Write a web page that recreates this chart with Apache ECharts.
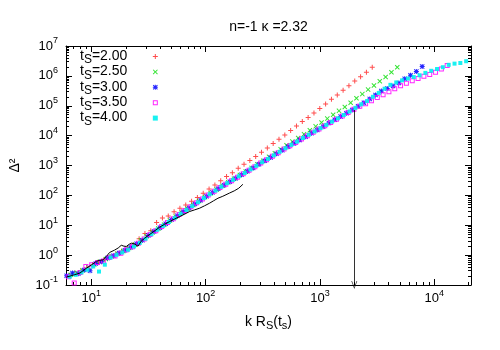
<!DOCTYPE html>
<html>
<head>
<meta charset="utf-8">
<script src="https://cdn.jsdelivr.net/npm/echarts@6.0.0/dist/echarts.min.js"></script>
<style>
html,body{margin:0;padding:0;background:#ffffff;}
#chart{width:500px;height:350px;}
</style>
</head>
<body>
<div id="chart"></div>
<script>
// ---------------- data ----------------
const titleText = 'n=-1 κ =2.32';
const tsLabels = ['2.00', '2.50', '3.00', '3.50', '4.00'];

const kRed = [6.40,7.19,8.09,9.10,10.23,11.51,12.94,14.55,16.37,18.41,20.70,23.28,26.18,29.44,33.11,37.24,41.88,47.10,52.97,59.57,66.99,75.34,84.72,95.28,107.2,120.5,135.5,152.4,171.4,192.8,216.8,243.8,274.2,308.3,346.7,390.0,438.5,493.2,554.6,623.7,701.5,788.9,887.2,997.7,1122,1262,1419,1596,1795,2018,2270,2553,2871];
const d2Red = [0.209,0.2455,0.2951,0.3715,0.4677,0.5754,0.7079,0.871,1.096,1.349,1.698,2.239,3.548,5.248,6.607,12.30,17.38,20.42,28.18,37.15,47.86,63.10,85.11,117.5,162.2,223.9,309.0,426.6,575.4,812.8,1096,1479,1995,2754,3890,5495,7586,10470,14790,20890,29510,40740,57540,81280,114800,166000,229100,331100,467700,676100,933300,1318000,1950000];

const kGreen = [6.62,7.45,8.38,9.42,10.59,11.91,13.40,15.07,16.94,19.05,21.43,24.10,27.10,30.48,34.28,38.55,43.35,48.75,54.83,61.66,69.34,77.98,87.70,98.63,110.9,124.7,140.3,157.8,177.4,199.5,224.4,252.4,283.8,319.2,358.9,403.6,453.9,510.5,574.1,645.7,726.1,816.6,918.3,1033,1161,1306,1469,1652,1858,2089,2350,2642,2972,3342,3758,4227,4753];
const d2Green = [0.2188,0.257,0.309,0.3981,0.4898,0.6026,0.7413,0.912,1.122,1.380,1.738,2.239,3.162,4.266,5.754,7.762,10.47,14.45,19.50,26.30,35.48,47.86,64.57,87.10,117.5,158.5,208.9,275.4,363.1,478.6,631.0,831.8,1096,1445,1950,2570,3467,4786,6310,8318,11220,15140,20420,27540,37150,50120,67610,91200,125900,177800,245500,346700,478600,660700,912000,1318000,1950000];

const kBlue = [6.08,6.84,7.69,8.65,9.73,10.94,12.30,13.84,15.56,17.50,19.68,22.13,24.89,27.99,31.48,35.40,39.81,44.77,50.35,56.62,63.68,71.61,80.54,90.57,101.9,114.6,128.8,144.9,162.9,183.2,206.1,231.7,260.6,293.1,329.6,370.7,416.9,468.8,527.2,592.9,666.8,749.9,843.3,948.4,1067,1199,1349,1517,1706,1919,2158,2427,2729,3069,3451,3882,4365,4909,5521,6209,6982,7852];
const d2Blue = [0.2042,0.2512,0.2399,0.3162,0.302,0.5248,0.6026,0.7943,0.955,1.175,1.445,1.820,2.399,3.162,4.571,6.166,8.318,11.22,15.49,20.89,28.18,38.02,51.29,69.18,93.33,125.9,166.0,218.8,288.4,371.5,489.8,645.7,831.8,1096,1445,1862,2455,3236,4266,5495,7079,9120,12020,15490,19950,26300,33880,43650,56230,72440,95500,125900,169800,229100,309000,380200,457100,575400,794300,1047000,1413000,2042000];

const kMagenta = [6.30,7.08,7.96,8.95,10.07,11.32,12.74,14.32,16.11,18.11,20.37,22.91,25.76,28.97,32.58,36.64,41.21,46.34,52.12,58.61,65.92,74.13,83.37,93.76,105.4,118.6,133.4,150.0,168.7,189.7,213.3,239.9,269.8,303.4,341.2,383.7,431.5,485.3,545.8,613.8,690.2,776.2,873.0,981.7,1104,1242,1396,1570,1766,1986,2234,2512,2825,3177,3573,4018,4519,5082,5715,6427,7228,8128,9141,10280,11560,13000];
const d2Magenta = [0.1905,0.1175,0.263,0.4169,0.4786,0.5623,0.631,0.8318,0.9333,1.148,1.514,1.905,2.512,3.467,4.898,6.607,9.12,12.30,16.60,22.91,30.90,41.69,56.23,75.86,102.3,138.0,182.0,234.4,309.0,407.4,524.8,691.8,912.0,1202,1549,2042,2692,3548,4571,5888,7762,10000,12880,16600,21380,27540,35480,45710,58880,75860,95500,117500,147900,190500,234400,295100,371500,467700,562300,691800,812800,977200,1122000,1318000,1698000,2239000];

const kCyan = [6.49,7.29,8.20,9.23,10.38,11.67,13.12,14.76,16.60,18.66,20.99,23.61,26.55,29.85,33.57,37.76,42.46,47.75,53.70,60.39,67.92,76.38,85.90,96.61,108.6,122.2,137.4,154.5,173.8,195.4,219.8,247.2,278.0,312.6,351.6,395.4,444.6,500.0,562.3,632.4,711.2,799.8,899.5,1012,1138,1279,1439,1618,1820,2046,2301,2588,2911,3273,3681,4140,4656,5236,5888,6622,7447,8375,9419,10590,11910,13400,15070,16940,19050];
const d2Cyan = [0.1905,0.2188,0.263,0.3236,0.4169,0.2818,0.4786,0.8318,1.023,1.230,1.514,1.950,2.570,3.548,5.012,7.079,9.550,12.88,17.38,23.99,32.36,43.65,58.88,81.28,109.6,144.5,195.0,257.0,331.1,436.5,562.3,741.3,977.2,1288,1660,2188,2884,3802,4898,6310,8318,10720,13800,17780,22910,29510,38020,48980,64570,85110,112200,144500,199500,269200,371500,501200,602600,707900,812800,912000,1047000,1259000,1479000,1698000,1950000,2344000,2570000,2692000,3090000];

const kLine = [6.03,7.08,7.94,9.04,10.0,11.04,11.89,12.59,13.49,14.45,16.0,17.18,18.28,19.28,20.23,21.38,22.39,23.99,25.59,27.35,29.17,31.26,35.48,39.54,43.65,48.42,53.70,59.16,66.07,72.44,79.43,88.51,97.72,108.4,117.5,128.2,141.3,162.2,177.8,195.0,211.8];
const d2Line = [0.182,0.219,0.251,0.363,0.468,0.617,0.676,0.692,0.891,1.230,1.479,1.738,2.138,1.995,1.950,2.291,2.512,2.344,1.995,2.951,3.631,4.467,6.31,8.61,10.72,13.34,16.22,19.50,23.99,28.84,32.36,37.15,44.67,54.95,66.07,80.35,93.33,120.2,141.3,173.8,234.4];

const arrowK = [2000];
const arrowD2 = [72000, 0.1];

const xRange = [6, 21000];
const yRange = [0.1, 1e7];
const xMajorTicks = [10, 100, 1000, 10000];
const yMajorTicks = [0.1, 1, 10, 100, 1000, 1e4, 1e5, 1e6, 1e7];
const xDecades = [1, 10, 100, 1000, 10000];
const yDecades = [0.1, 1, 10, 100, 1000, 1e4, 1e5, 1e6];
const minorMantissas = [2, 3, 4, 5, 6, 7, 8, 9];

// ---------------- presentation ----------------
const FONT = '"Liberation Sans", Arial, Helvetica, sans-serif';
const INK = '#000000';

function minorTicks(decades, range) {
  const out = [];
  decades.forEach(d => minorMantissas.forEach(m => {
    const v = d * m;
    if (v >= range[0] && v <= range[1]) out.push(v);
  }));
  return out;
}
const xMinor = minorTicks(xDecades, xRange);
const yMinor = minorTicks(yDecades, yRange);

function pairs(ks, vs) { return ks.map((k, i) => [k, vs[i]]); }

const expRich = {
  b: { fontFamily: FONT, fontSize: 13, color: INK, lineHeight: 13, verticalAlign: 'bottom' },
  s: { fontFamily: FONT, fontSize: 9, color: INK, lineHeight: 9, padding: [0, 0, 7, 0], verticalAlign: 'bottom' }
};
function expLabel(v) {
  const e = Math.round(Math.log10(v));
  return '{b|10}{s|' + e + '}';
}
const subRich = {
  a: { fontFamily: FONT, fontSize: 14, color: INK, lineHeight: 14, verticalAlign: 'top' },
  s: { fontFamily: FONT, fontSize: 11, color: INK, lineHeight: 11, padding: [5, 0, 0, 0], verticalAlign: 'top' }
};

const SYM_PLUS = 'path://M4,0H6V4H10V6H6V10H4V6H0V4H4Z';
const SYM_X = 'path://M0,1.4L1.4,0L5,3.6L8.6,0L10,1.4L6.4,5L10,8.6L8.6,10L5,6.4L1.4,10L0,8.6L3.6,5Z';
const SYM_STAR = SYM_PLUS + ' M0,1.4L1.4,0L5,3.6L8.6,0L10,1.4L6.4,5L10,8.6L8.6,10L5,6.4L1.4,10L0,8.6L3.6,5Z';
const SYM_OPEN = 'path://M0,0H10V10H0Z M2,2V8H8V2Z';
const SYM_FILL = 'path://M0,0H10V10H0Z';
const SYM_HEAD = 'path://M0,10L5,0L10,10L8.8,10L5,2.6L1.2,10Z';

const pointSets = [
  { k: kRed, d: d2Red, color: '#ff0000', symbol: SYM_PLUS, size: 5, opacity: 0.7 },
  { k: kGreen, d: d2Green, color: '#00dd00', symbol: SYM_X, size: 5, opacity: 0.8 },
  { k: kBlue, d: d2Blue, color: '#0000ff', symbol: SYM_STAR, size: 5, opacity: 0.85 },
  { k: kMagenta, d: d2Magenta, color: '#ff00ff', symbol: SYM_OPEN, size: 5, opacity: 0.85 },
  { k: kCyan, d: d2Cyan, color: '#00f0f0', symbol: SYM_FILL, size: 4, opacity: 0.9 }
];
const seriesNames = tsLabels.map(t => 't_S=' + t);

const scatterSeries = pointSets.map((p, i) => ({
  name: seriesNames[i],
  type: 'scatter',
  xAxisIndex: 0, yAxisIndex: 0,
  data: pairs(p.k, p.d),
  symbol: p.symbol,
  symbolSize: p.size,
  itemStyle: { color: p.color, opacity: p.opacity },
  emphasis: { disabled: true },
  silent: true
}));

function logAxis(gridIndex, position, range, ticks, tickLen, extra) {
  return Object.assign({
    gridIndex: gridIndex,
    type: 'log',
    logBase: 10,
    position: position,
    min: range[0],
    max: range[1],
    axisLine: { show: true, lineStyle: { color: INK, width: 1 } },
    axisTick: { show: true, inside: true, length: tickLen, customValues: ticks, lineStyle: { color: INK, width: 1 } },
    axisLabel: { show: false },
    splitLine: { show: false },
    minorTick: { show: false },
    minorSplitLine: { show: false },
    nameMoveOverlap: false
  }, extra || {});
}

const option = {
  animation: false,
  backgroundColor: '#ffffff',
  grid: [
    { left: 66, right: 29, top: 46, bottom: 65, outerBoundsMode: 'none', containLabel: false },
    { left: 66, right: 29, top: 46, bottom: 65, outerBoundsMode: 'none', containLabel: false }
  ],
  xAxis: [
    logAxis(0, 'bottom', xRange, xMajorTicks, 6, {
      axisLabel: { show: true, customValues: xMajorTicks, formatter: expLabel, rich: expRich, margin: 7 },
      name: '{a|k R}{s|S}{a|(t}{s|s}{a|)}',
      nameLocation: 'middle',
      nameGap: 30,
      nameTextStyle: { fontFamily: FONT, fontSize: 14, color: INK, rich: subRich }
    }),
    logAxis(0, 'top', xRange, xMajorTicks, 6, {
      name: titleText,
      nameLocation: 'middle',
      nameGap: 12,
      nameTextStyle: { fontFamily: FONT, fontSize: 14, color: INK }
    }),
    logAxis(1, 'bottom', xRange, xMinor, 3, { axisLine: { show: false } }),
    logAxis(1, 'top', xRange, xMinor, 3, { axisLine: { show: false } })
  ],
  yAxis: [
    logAxis(0, 'left', yRange, yMajorTicks, 6, {
      axisLabel: { show: true, customValues: yMajorTicks, formatter: expLabel, rich: expRich, margin: 8 },
      name: 'Δ²',
      nameLocation: 'middle',
      nameRotate: 90,
      nameGap: 44,
      nameTextStyle: { fontFamily: FONT, fontSize: 14, color: INK }
    }),
    logAxis(0, 'right', yRange, yMajorTicks, 6, {}),
    logAxis(1, 'left', yRange, yMinor, 3, { axisLine: { show: false } }),
    logAxis(1, 'right', yRange, yMinor, 3, { axisLine: { show: false } })
  ],
  legend: {
    show: true,
    orient: 'vertical',
    left: 80,
    top: 49,
    align: 'right',
    itemWidth: 46,
    itemHeight: 5,
    itemGap: -1.6,
    padding: 0,
    selectedMode: false,
    data: seriesNames,
    formatter: function (n) { return '{a|t}{s|S}{a|' + n.slice(3) + '}'; },
    textStyle: {
      fontFamily: FONT, fontSize: 14, color: INK,
      rich: {
        a: { fontFamily: FONT, fontSize: 14, color: INK, lineHeight: 15, verticalAlign: 'top' },
        s: { fontFamily: FONT, fontSize: 12, color: INK, lineHeight: 12, padding: [5, 0, 0, 0], verticalAlign: 'top' }
      }
    }
  },
  series: scatterSeries.concat([{
    name: 'linear',
    type: 'line',
    xAxisIndex: 0, yAxisIndex: 0,
    data: pairs(kLine, d2Line),
    showSymbol: false,
    symbol: 'none',
    lineStyle: { color: INK, width: 1 },
    emphasis: { disabled: true },
    silent: true,
    markLine: {
      silent: true,
      animation: false,
      symbol: ['none', SYM_HEAD],
      symbolSize: [6, 8],
      label: { show: false },
      lineStyle: { color: INK, width: 1, type: 'solid', opacity: 0.8 },
      emphasis: { disabled: true },
      data: [[{ coord: [arrowK[0], arrowD2[0]] }, { coord: [arrowK[0], arrowD2[1]] }]]
    }
  }])
};

const chart = echarts.init(document.getElementById('chart'), null, { renderer: 'canvas', width: 500, height: 350 });
chart.setOption(option);
</script>
</body>
</html>
